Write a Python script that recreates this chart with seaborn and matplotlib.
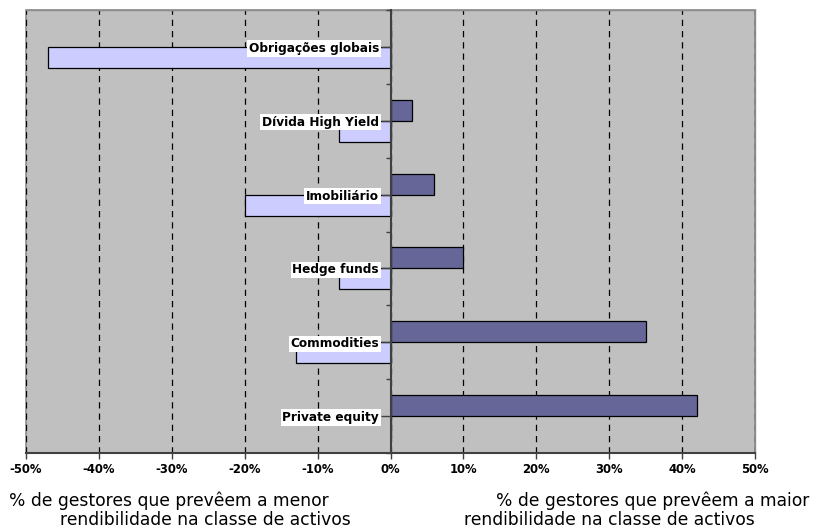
import numpy as np
import pandas as pd
import matplotlib
matplotlib.use("Agg")
import matplotlib.pyplot as plt
import seaborn as sns

# Asset classes and the share of managers (%) expecting the best / worst return
categorias = ["Obrigações globais", "Dívida High Yield", "Imobiliário",
              "Hedge funds", "Commodities", "Private equity"]
maior_rendibilidade = [0, 3, 6, 10, 35, 42]
menor_rendibilidade = [-47, -7, -20, -7, -13, 0]

series = ["Maior", "Menor"]
cores = {"Maior": "#666699", "Menor": "#CCCCFF"}

x_ticks = list(range(-50, 51, 10))
x_tick_labels = [f"{v}%" for v in x_ticks]

df = pd.DataFrame({
    "categoria": categorias * 2,
    "valor": maior_rendibilidade + menor_rendibilidade,
    "serie": ["Maior"] * len(categorias) + ["Menor"] * len(categorias),
})

plt.rcParams["font.family"] = ["DejaVu Sans"]

W, H = 822, 529
fig = plt.figure(figsize=(W / 100, H / 100), dpi=100)
ax = fig.add_axes([26 / W, 1 - 453 / H, (755 - 26) / W, (453 - 10) / H])
ax.set_facecolor("#C0C0C0")

sns.barplot(data=df, y="categoria", x="valor", hue="serie",
            order=categorias, hue_order=series, palette=cores,
            width=0.57, dodge=True, saturation=1, errorbar=None,
            edgecolor="black", linewidth=0.9, legend=False, ax=ax)

ax.set_xlim(-50, 50)
ax.set_ylim(len(categorias) - 0.5, -0.5)
ax.set_xlabel("")
ax.set_ylabel("")

# vertical dashed grid, kept behind the bars
ax.set_axisbelow(True)
ax.grid(axis="x", color="black", linestyle=(0, (5, 4)), linewidth=0.9)
ax.grid(axis="y", visible=False)
# category labels sit on top of the bars
ax.yaxis.set_zorder(4)

# x axis
ax.set_xticks(x_ticks)
ax.set_xticklabels(x_tick_labels, fontsize=8.4, fontweight="bold")
ax.tick_params(axis="x", length=4, width=1, color="#404040", pad=3)

# category axis sits at 0%
ax.spines["left"].set_position(("data", 0))
ax.spines["left"].set_color("#404040")
ax.spines["left"].set_linewidth(1.5)
ax.spines["left"].set_zorder(3)
ax.spines["bottom"].set_color("#404040")
ax.spines["bottom"].set_linewidth(1.5)
for s in ("top", "right"):
    ax.spines[s].set_color("#8C8C8C")
    ax.spines[s].set_linewidth(1.0)
ax.patch.set_edgecolor("#8C8C8C")
ax.patch.set_linewidth(1.2)

ax.set_yticks(np.arange(-0.5, len(categorias), 1), minor=True)
ax.tick_params(axis="y", which="major", length=7.5, width=1,
               color="#404040", pad=0.8)
ax.tick_params(axis="y", which="minor", length=3.5, width=1, color="#404040")
for lbl in ax.get_yticklabels():
    lbl.set_fontweight("bold")
    lbl.set_fontsize(8.7)
    lbl.set_bbox(dict(facecolor="white", edgecolor="none", pad=1.2))

# captions under the axis
txt = dict(fontsize=12.3, color="black", va="baseline", ha="left")
fig.text(9 / W, 1 - 506 / H, "% de gestores que prevêem a menor", **txt)
fig.text(60 / W, 1 - 525 / H, "rendibilidade na classe de activos", **txt)
fig.text(496 / W, 1 - 506 / H, "% de gestores que prevêem a maior", **txt)
fig.text(464 / W, 1 - 525 / H, "rendibilidade na classe de activos", **txt)

fig.savefig("out.png", dpi=100, facecolor="white")
